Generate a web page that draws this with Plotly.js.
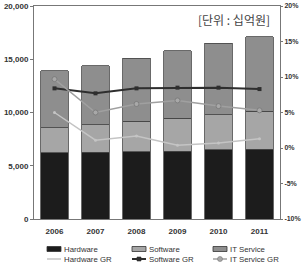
<!DOCTYPE html>
<html>
<head>
<meta charset="utf-8">
<script src="https://cdn.plot.ly/plotly-3.0.1.min.js"></script>
<style>html,body{margin:0;padding:0;background:#fff;}#chart{width:304px;height:263px;}</style>
</head>
<body>
<div id="chart"></div>
<script>
const years = ['2006', '2007', '2008', '2009', '2010', '2011'];
const hardware = [6200, 6250, 6300, 6380, 6480, 6570];
const software = [2350, 2580, 2900, 3100, 3290, 3570];
const itService = [5350, 5570, 5900, 6320, 6730, 6960];
const hardwareGR = [5.0, 1.1, 1.7, 0.4, 0.7, 1.3];
const softwareGR = [8.4, 7.7, 8.4, 8.5, 8.5, 8.3];
const itServiceGR = [9.7, 5.0, 6.2, 6.7, 5.9, 5.3];
const leftTicks = [0, 5000, 10000, 15000, 20000];
const rightTicks = [-10, -5, 0, 5, 10, 15, 20];
const rightTickText = ['-10%', '-5%', '0%', '5%', '10%', '15%', '20%'];
const unitLabel = '[단위 : 십억원]';

const W = 304, H = 263;
const M = {l: 34, r: 24, t: 6, b: 44};
const PW = W - M.l - M.r, PH = H - M.t - M.b;
const px2x = p => (p - M.l) / PW;
const px2y = p => (H - M.b - p) / PH;

const barLine = {color: '#444', width: 0.8};
const traces = [
  {type: 'bar', name: 'Hardware', x: years, y: hardware, marker: {color: '#1c1c1c', line: barLine}},
  {type: 'bar', name: 'Software', x: years, y: software, marker: {color: '#a6a6a6', line: barLine}},
  {type: 'bar', name: 'IT Service', x: years, y: itService, marker: {color: '#8e8e8e', line: barLine}},
  {type: 'scatter', mode: 'lines+markers', name: 'Hardware GR', x: years, y: hardwareGR, yaxis: 'y2',
   line: {color: '#c4c4c4', width: 1.5}, marker: {color: '#c4c4c4', size: 3}},
  {type: 'scatter', mode: 'lines+markers', name: 'Software GR', x: years, y: softwareGR, yaxis: 'y2',
   line: {color: '#2e2e2e', width: 2}, marker: {color: '#2e2e2e', size: 4, symbol: 'square'}},
  {type: 'scatter', mode: 'lines+markers', name: 'IT Service GR', x: years, y: itServiceGR, yaxis: 'y2',
   line: {color: '#a0a0a0', width: 1.5}, marker: {color: '#a8a8a8', size: 5, line: {color: '#777', width: 0.8}}}
];

// manual legend: 3 columns x 2 rows under the plot
const legCols = [47, 132, 213];
const legRows = [249, 259];
const shapes = [];
const annotations = [{xref: 'paper', yref: 'paper', x: px2x(272), y: px2y(20), xanchor: 'right', yanchor: 'middle',
  text: unitLabel, showarrow: false, font: {family: 'Noto Sans CJK KR, sans-serif', size: 12, color: '#444'}}];
traces.forEach((t, i) => {
  const cx = legCols[i % 3], cy = legRows[Math.floor(i / 3)];
  if (t.type === 'bar') {
    shapes.push({type: 'rect', xref: 'paper', yref: 'paper', x0: px2x(cx), x1: px2x(cx + 14),
      y0: px2y(cy - 2.5), y1: px2y(cy + 2.5), fillcolor: t.marker.color, line: {color: '#333', width: 0.8}});
  } else {
    shapes.push({type: 'line', xref: 'paper', yref: 'paper', x0: px2x(cx), x1: px2x(cx + 14),
      y0: px2y(cy), y1: px2y(cy), line: {color: t.line.color, width: t.line.width}});
    if (i > 3) {
      const s = t.marker.size / 2;
      shapes.push({type: t.marker.symbol === 'square' ? 'rect' : 'circle', xref: 'paper', yref: 'paper',
        x0: px2x(cx + 7 - s), x1: px2x(cx + 7 + s), y0: px2y(cy - s), y1: px2y(cy + s),
        fillcolor: t.marker.color, line: {color: (t.marker.line && t.marker.line.color) || t.marker.color, width: 0.6}});
    }
  }
  annotations.push({xref: 'paper', yref: 'paper', x: px2x(cx + 15), y: px2y(cy), xanchor: 'left', yanchor: 'middle',
    text: t.name, showarrow: false, font: {family: 'Liberation Sans, Arial, sans-serif', size: 7.8, color: '#333'}});
});

const tickFont = {family: 'Liberation Sans, Arial, sans-serif', size: 8, color: '#333', weight: 'bold'};
const layout = {
  width: W, height: H,
  margin: Object.assign({autoexpand: false}, M),
  paper_bgcolor: '#fff', plot_bgcolor: '#fff',
  barmode: 'stack', bargap: 0.32,
  showlegend: false,
  xaxis: {type: 'category', tickfont: tickFont, ticklabelstandoff: 4,
    showline: true, linecolor: '#777', linewidth: 1, mirror: true, ticks: '', showgrid: false, zeroline: false},
  yaxis: {range: [0, 20000], tickvals: leftTicks, tickformat: ',d', tickfont: tickFont,
    showline: true, linecolor: '#777', linewidth: 1, ticks: 'outside', ticklen: 3, tickcolor: '#777',
    showgrid: false, zeroline: false},
  yaxis2: {overlaying: 'y', side: 'right', range: [-10, 20], tickvals: rightTicks, ticktext: rightTickText,
    tickfont: {family: 'Liberation Sans, Arial, sans-serif', size: 7, color: '#333', weight: 'bold'},
    showline: true, linecolor: '#777', linewidth: 1, ticks: 'outside', ticklen: 2, tickcolor: '#777',
    showgrid: false, zeroline: false},
  shapes: shapes,
  annotations: annotations
};

Plotly.newPlot('chart', traces, layout, {displayModeBar: false, staticPlot: true});
</script>
</body>
</html>
